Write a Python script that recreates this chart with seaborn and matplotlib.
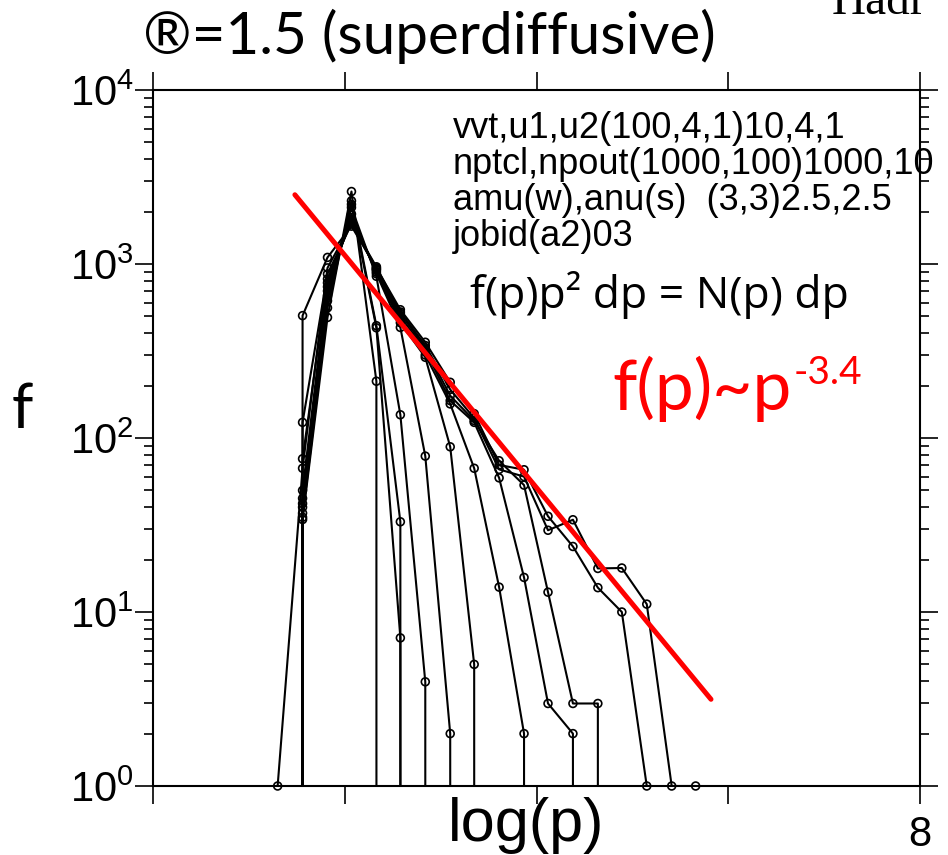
import numpy as np
import pandas as pd
import matplotlib
matplotlib.use("Agg")
import matplotlib.pyplot as plt
import seaborn as sns
from matplotlib.ticker import LogLocator, NullFormatter, FixedLocator, FixedFormatter

# ---------------- data ----------------
log_p = [1.30, 1.56, 1.82, 2.07, 2.33, 2.58, 2.84, 3.10, 3.35, 3.61,
         3.87, 4.12, 4.38, 4.64, 4.89, 5.15, 5.41, 5.66]

f_t01 = [0, 34, 493, 2609, 212, 0, 0, 0, 0, 0, 0, 0, 0, 0, 0, 0, 0, 0]
f_t02 = [0, 35, 560, 2307, 442, 33, 0, 0, 0, 0, 0, 0, 0, 0, 0, 0, 0, 0]
f_t03 = [0, 37, 615, 2200, 430, 7.1, 0, 0, 0, 0, 0, 0, 0, 0, 0, 0, 0, 0]
f_t04 = [0, 40, 660, 2113, 850, 136, 3.97, 0, 0, 0, 0, 0, 0, 0, 0, 0, 0, 0]
f_t05 = [0, 42, 700, 1936, 880, 432, 78.7, 2.0, 0, 0, 0, 0, 0, 0, 0, 0, 0, 0]
f_t06 = [0, 45, 740, 1850, 900, 460, 291, 89, 5.0, 0, 0, 0, 0, 0, 0, 0, 0, 0]
f_t07 = [0, 50, 780, 1800, 920, 480, 300, 157, 67, 13.9, 2.0, 0, 0, 0, 0, 0, 0, 0]
f_t08 = [0, 76, 820, 1750, 940, 500, 320, 164, 123, 59, 15.8, 2.98, 2.0, 0, 0, 0, 0, 0]
f_t09 = [0, 123, 876, 1698, 964, 520, 330, 175, 126, 74, 53.6, 13.0, 2.98, 2.98, 0, 0, 0, 0]
f_t10 = [0, 505, 1091, 1650, 950, 546, 355, 209, 138, 70, 65.7, 35.5, 23.8, 13.8, 10.0, 1, 0, 0]
f_t11 = [1, 67, 950, 1700, 930, 530, 340, 190, 130, 66, 60, 29.5, 33.9, 17.8, 17.9, 11.1, 1, 1]

fit_log_p = [1.48, 5.82]
fit_f = [2500, 3.15]

xtick_values = [0, 2, 4, 6, 8]
xtick_labels = ["", "", "", "", "8"]

title_text = "\u00ae=1.5 (superdiffusive)"
param_lines = ["vvt,u1,u2(100,4,1)10,4,1",
               "nptcl,npout(1000,100)1000,10",
               "amu(w),anu(s)  (3,3)2.5,2.5",
               "jobid(a2)03"]
eq_text = "f(p)p\u00b2 dp = N(p) dp"
fit_text = "f(p)~p"
fit_exp = "-3.4"

# ---------------- style ----------------
sns.set_style("ticks")
plt.rcParams["font.family"] = ["Liberation Sans", "DejaVu Sans"]
plt.rcParams["mathtext.fontset"] = "custom"
plt.rcParams["mathtext.rm"] = "Liberation Sans"
plt.rcParams["mathtext.it"] = "Liberation Sans:italic"
plt.rcParams["mathtext.bf"] = "Liberation Sans:bold"
plt.rcParams["mathtext.default"] = "regular"
for key in ["text.color", "axes.labelcolor", "xtick.color", "ytick.color",
            "axes.edgecolor"]:
    plt.rcParams[key] = "black"

curves = [f_t01, f_t02, f_t03, f_t04, f_t05, f_t06, f_t07, f_t08, f_t09, f_t10, f_t11]
rows = []
for i, fv in enumerate(curves):
    for xv, yv in zip(log_p, fv):
        rows.append({"log_p": xv, "f": yv, "curve": i})
df = pd.DataFrame(rows)

W, H = 948, 855
fig = plt.figure(figsize=(W / 100, H / 100), dpi=100)
ax = fig.add_axes([153 / W, 1 - 786 / H, (920 - 153) / W, (786 - 90) / H])

# lines (zeros drop straight to the bottom on the log axis)
sns.lineplot(data=df, x="log_p", y="f", units="curve", estimator=None,
             color="black", linewidth=1.5, sort=False, legend=False, ax=ax)
# markers (open circles)
nz = df[df["f"] > 0]
sns.scatterplot(data=nz, x="log_p", y="f", color="black", s=32, marker="o",
                legend=False, ax=ax, zorder=3)
pts = ax.collections[-1]
pts.set_facecolor("none")
pts.set_edgecolor("black")
pts.set_linewidth(1.2)
pts.set_clip_on(False)

# power law fit
sns.lineplot(x=fit_log_p, y=fit_f, color="red", linewidth=3.6, ax=ax, zorder=5)

ax.set_yscale("log")
ax.set_ylim(1, 1e4)
ax.set_xlim(0, 8)
ax.xaxis.set_major_locator(FixedLocator(xtick_values))
ax.xaxis.set_major_formatter(FixedFormatter(xtick_labels))
ax.yaxis.set_major_locator(LogLocator(base=10, numticks=10))
ax.yaxis.set_minor_locator(LogLocator(base=10, subs=np.arange(2, 10), numticks=20))
ax.yaxis.set_minor_formatter(NullFormatter())
ax.set_xlabel("")
ax.set_ylabel("")

for s in ax.spines.values():
    s.set_visible(True)
    s.set_linewidth(1.5)
    s.set_color("black")

ax.tick_params(axis="both", which="major", direction="out", length=13, width=1.2,
               top=True, right=True, color="black")
ax.tick_params(axis="y", which="minor", direction="out", length=6.5, width=1.2,
               left=True, right=True)
ax.tick_params(axis="y", which="major", labelsize=30, pad=1)
ax.tick_params(axis="x", which="major", labelsize=30, pad=8)

# texts
fig.text(143 / W, 1 - 54 / H, title_text, fontsize=42, family=["Lato", "DejaVu Sans"],
         va="baseline", ha="left")
fig.text(832 / W, 1 - 14 / H, "Hadr", fontsize=34, family=["Liberation Serif", "DejaVu Serif"],
         va="baseline", ha="left", color="black")
for k, line in enumerate(param_lines):
    fig.text(453 / W, 1 - (138 + 36 * k) / H, line, fontsize=26,
             family=["Liberation Sans", "DejaVu Sans"], va="baseline", ha="left")
fig.text(470 / W, 1 - 308 / H, eq_text, fontsize=32, family=["Open Sans", "DejaVu Sans"],
         va="baseline", ha="left")
fig.text(612 / W, 1 - 410 / H, fit_text, fontsize=50, family=["Lato", "DejaVu Sans"],
         va="baseline", ha="left", color="red")
fig.text(794 / W, 1 - 384 / H, fit_exp, fontsize=28, family=["Lato", "DejaVu Sans"],
         va="baseline", ha="left", color="red")
fig.text(22 / W, 1 - 428 / H, "f", fontsize=44, family=["Lato", "DejaVu Sans"],
         va="baseline", ha="center")
fig.text(526 / W, 1 - 841 / H, "log(p)", fontsize=44, family=["Liberation Sans", "DejaVu Sans"],
         va="baseline", ha="center")

fig.savefig("out.png", dpi=100)
